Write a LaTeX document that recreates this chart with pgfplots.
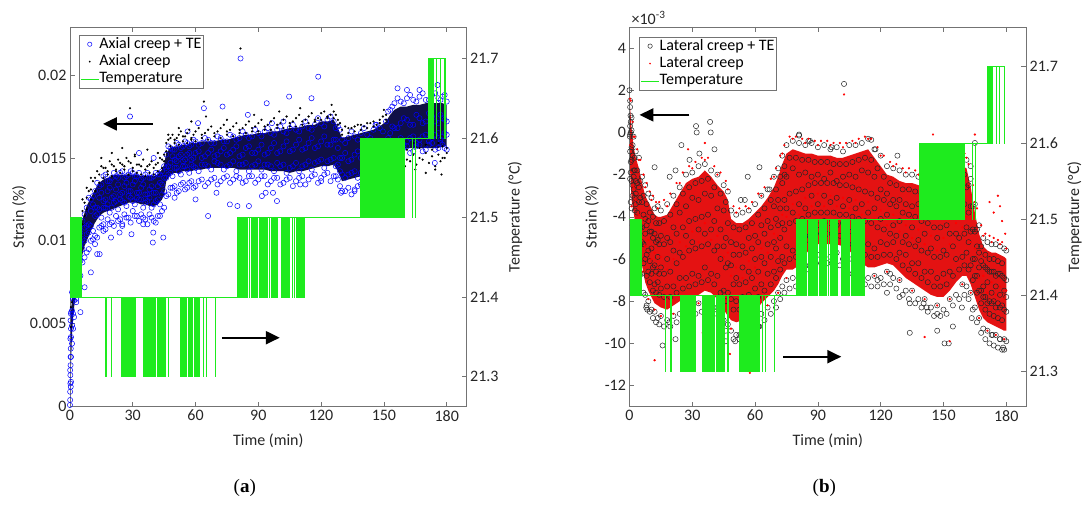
\documentclass[border=0pt]{standalone}
\usepackage{fontspec}
\setmainfont{Carlito}
\newfontfamily\capfont{Liberation Serif}
\usepackage{pgfplots}
\pgfplotsset{compat=1.18}
\usepackage{pgfplotstable}
\usepgfplotslibrary{fillbetween}
\usetikzlibrary{arrows.meta}

\definecolor{tgreen}{RGB}{30,235,30}
\definecolor{corea}{RGB}{16,16,70}
\definecolor{coreb}{RGB}{228,18,18}
\definecolor{axgray}{RGB}{115,115,115}
\newcommand\tickfont{\fontsize{16}{18}\selectfont}
\newcommand\legfont{\fontsize{16}{17}\selectfont}

% panel (a): strain in units of 1e-3 %
\pgfplotstableread{
t lo hi c1 c2 c3 c4 d1 d2
0.5 2.5 5.5 1.5 3.0 4.2 5.6 6.0 4.8
1 4.4 6.8 3.8 4.9 5.8 6.9 7.2 6.3
1.5 5.3 7.5 4.7 5.6 6.5 7.4 7.9 6.9
2 6.0 8.2 5.4 6.4 7.0 8.2 8.6 7.6
3 7.0 9.2 6.5 7.3 8.3 9.0 9.7 8.9
4 7.8 10.0 7.1 8.2 8.7 9.9 10.4 9.5
5 8.6 10.7 7.9 8.8 9.8 10.5 11.2 10.4
6 9.2 11.3 8.7 9.5 10.1 11.2 11.8 11.0
7 9.7 11.7 9.0 10.0 10.8 11.6 12.3 11.5
8 10.0 12.1 9.3 10.4 10.9 12.0 12.6 11.9
10 10.6 12.6 10.0 10.9 11.8 12.5 13.1 12.5
12 11.1 13.1 10.3 11.5 12.0 13.0 13.8 13.0
14 11.5 13.5 10.8 11.9 12.6 13.3 14.0 13.5
16 11.7 13.7 11.0 12.0 12.4 13.9 14.4 13.8
18 11.8 13.8 11.3 12.2 13.0 13.6 14.2 14.0
20 11.9 13.9 11.1 12.0 12.6 13.8 14.6 13.9
22 12.0 14.0 11.5 12.4 13.1 13.9 14.3 14.2
24 12.1 14.0 11.3 12.5 12.8 14.1 14.7 14.1
26 12.2 14.0 11.6 12.3 13.3 13.8 14.5 14.3
28 12.3 14.0 11.4 12.7 13.0 14.0 14.8 14.0
30 12.3 14.0 11.8 12.4 13.4 14.1 14.4 14.2
32 12.3 14.0 11.5 12.6 12.9 13.9 14.6 14.1
34 12.2 13.9 11.6 12.5 13.2 13.7 14.5 14.0
36 12.2 13.9 11.3 12.3 12.8 14.0 14.3 13.9
38 12.1 13.9 11.6 12.6 13.1 13.8 14.6 14.1
40 12.1 13.9 11.2 12.2 12.9 13.9 14.4 14.0
42 12.2 14.0 11.5 12.5 13.3 14.0 14.7 14.2
44 12.5 14.3 11.8 12.8 13.4 14.2 14.9 14.4
45 12.8 14.6 12.0 13.0 13.8 14.5 15.2 14.8
46 13.6 15.3 12.7 13.8 14.4 15.2 15.9 15.4
48 14.0 15.6 13.2 14.1 14.7 15.6 16.2 15.7
50 14.1 15.7 13.3 14.4 14.9 15.5 16.1 15.9
52 14.1 15.7 13.0 14.2 15.1 15.8 16.4 15.8
54 14.2 15.8 13.5 14.5 14.8 15.7 16.3 16.0
56 14.2 15.8 13.2 14.3 15.2 15.9 16.5 15.9
58 14.2 15.9 13.6 14.6 14.9 15.8 16.2 16.1
60 14.3 15.9 13.3 14.4 15.3 16.0 16.6 16.0
63 14.3 16.0 13.7 14.6 15.0 15.9 16.4 16.2
66 14.4 16.0 13.5 14.5 15.3 16.1 16.7 16.1
69 14.4 16.0 13.8 14.8 15.1 15.9 16.5 16.3
72 14.4 16.1 13.6 14.6 15.4 16.2 16.8 16.2
75 14.4 16.1 13.9 14.5 15.2 16.0 16.6 16.4
78 14.4 16.2 13.7 14.8 15.5 16.3 16.9 16.3
81 14.3 16.3 13.8 14.6 15.1 16.2 16.7 16.5
84 14.3 16.4 13.6 14.7 15.6 16.4 17.0 16.5
87 14.3 16.4 13.9 14.5 15.3 16.3 16.8 16.6
90 14.3 16.5 13.7 14.8 15.5 16.5 17.1 16.6
93 14.3 16.5 13.9 14.6 15.2 16.6 16.9 16.7
96 14.2 16.6 13.6 14.5 15.6 16.5 17.2 16.7
99 14.2 16.6 13.8 14.7 15.3 16.7 17.0 16.8
102 14.2 16.7 13.5 14.6 15.7 16.6 17.3 16.8
105 14.1 16.8 13.8 14.4 15.4 16.8 17.1 16.9
108 14.2 16.8 13.6 14.7 15.8 16.7 17.4 16.9
111 14.2 16.9 13.9 14.5 15.5 16.9 17.2 17.0
114 14.3 17.0 13.7 14.8 15.9 16.8 17.5 17.1
117 14.4 17.0 14.0 14.7 15.6 17.0 17.3 17.2
120 14.5 17.2 13.8 14.9 16.0 17.1 17.7 17.3
123 14.5 17.2 14.1 14.8 15.8 17.3 17.5 17.4
126 14.6 17.3 13.9 15.0 16.1 17.2 17.8 17.4
128 14.2 16.8 13.7 14.6 15.6 16.9 17.3 17.0
130 13.6 16.2 13.0 14.0 15.0 16.1 16.7 16.4
133 13.7 16.3 13.2 14.0 14.8 16.2 16.8 16.5
136 13.8 16.4 13.1 14.2 15.2 16.3 16.9 16.6
139 13.9 16.5 13.4 14.1 15.0 16.5 17.0 16.7
142 14.1 16.6 13.5 14.4 15.5 16.4 17.1 16.8
145 14.2 16.7 13.7 14.5 15.3 16.7 17.2 16.9
148 14.4 16.9 13.8 14.7 15.7 16.8 17.3 17.1
151 14.8 17.2 14.2 15.1 16.0 17.2 17.6 17.3
153 15.2 17.6 14.9 15.6 16.5 17.9 14.8 15.4
155 15.5 17.9 15.3 16.0 16.8 18.3 15.0 15.6
158 15.6 18.1 15.5 16.2 17.1 18.4 15.1 15.8
161 15.6 18.1 15.7 16.0 17.3 18.6 14.9 15.5
164 15.6 18.2 15.4 16.3 17.0 18.5 15.2 15.9
167 15.6 18.2 15.8 16.1 17.4 18.7 15.0 15.6
170 15.6 18.3 15.5 16.4 17.2 18.5 15.3 15.8
173 15.6 18.3 15.9 16.2 17.5 18.8 15.1 15.5
176 15.6 18.3 15.6 16.5 17.1 18.6 15.2 15.9
178 15.7 18.3 15.8 16.3 17.4 18.7 15.0 15.7
180 15.7 18.2 15.5 16.4 17.2 18.4 15.3 15.6
}\tabA

\pgfplotstableread{
t e1 e2 e3 e4 f1
9 9.5 10.5 11.0 12.6 13.0
11 10.1 10.6 12.2 12.7 13.6
13 10.2 11.6 12.0 13.5 14.2
15 10.9 11.4 12.9 13.4 14.5
17 10.7 12.0 12.5 14.0 14.4
19 11.0 11.7 13.2 13.6 14.8
21 10.9 12.3 12.7 14.1 14.5
23 11.2 11.9 13.4 13.8 14.9
25 11.0 12.4 12.9 14.2 14.6
27 11.4 12.1 13.5 13.9 15.0
29 11.1 12.6 13.0 14.2 14.7
31 11.5 12.2 13.6 13.9 15.1
33 11.2 12.5 12.9 14.1 14.6
35 11.4 12.0 13.4 13.8 14.9
37 11.0 12.4 12.8 14.1 14.5
39 11.4 12.0 13.3 13.8 14.8
41 11.1 12.4 12.9 14.1 14.6
43 11.5 12.2 13.5 14.0 15.0
47 12.8 14.0 14.5 15.7 16.1
49 13.2 13.9 15.1 15.5 16.4
51 12.9 14.4 14.8 15.9 16.2
53 13.4 14.0 15.2 15.6 16.6
55 13.1 14.5 14.9 16.0 16.3
57 13.5 14.1 15.3 15.7 16.7
59 13.2 14.5 15.0 16.1 16.4
61.5 13.6 14.2 15.4 15.8 16.8
64.5 13.3 14.6 15.1 16.2 16.5
67.5 13.7 14.3 15.5 15.9 16.9
70.5 13.4 14.7 15.2 16.3 16.6
73.5 13.8 14.3 15.6 16.0 17.0
76.5 13.5 14.6 15.3 16.4 16.7
79.5 13.9 14.2 15.7 16.1 17.1
82.5 13.5 14.6 15.2 16.6 16.8
85.5 13.9 14.2 15.7 16.2 17.2
88.5 13.5 14.6 15.3 16.7 16.9
91.5 13.9 14.3 15.8 16.3 17.3
94.5 13.4 14.6 15.3 16.8 17.0
97.5 13.8 14.2 15.9 16.4 17.4
100.5 13.4 14.5 15.4 16.9 17.1
103.5 13.7 14.1 16.0 16.5 17.5
106.5 13.3 14.5 15.5 17.0 17.2
109.5 13.8 14.2 16.1 16.6 17.6
112.5 13.4 14.6 15.6 17.2 17.3
115.5 13.9 14.3 16.2 16.7 17.7
118.5 13.5 14.8 15.7 17.4 17.4
121.5 14.0 14.4 16.3 16.9 17.8
124.5 13.6 14.9 15.8 17.5 17.6
127 13.9 14.5 16.1 16.8 17.6
129 13.3 14.2 15.0 16.7 17.1
131.5 13.0 13.8 15.3 15.9 16.9
134.5 12.8 14.1 14.9 16.6 16.8
137.5 13.3 13.8 15.4 16.1 17.0
140.5 12.9 14.3 15.0 16.8 16.9
143.5 13.5 14.0 15.6 16.2 17.1
146.5 13.2 14.6 15.3 17.0 17.0
149.5 13.8 14.4 16.0 16.6 17.5
152 14.5 15.3 16.2 17.8 14.4
154 15.1 15.6 16.9 18.1 14.6
156.5 15.2 16.0 16.8 18.6 14.7
159.5 15.6 15.8 17.4 18.3 14.5
162.5 15.3 16.2 17.0 18.8 14.8
165.5 15.7 15.9 17.6 18.4 14.6
168.5 15.4 16.3 17.1 18.9 14.9
171.5 15.8 16.0 17.7 18.5 14.7
174.5 15.5 16.4 17.2 18.9 14.5
177 15.9 16.1 17.6 18.5 14.8
179 15.6 16.5 17.3 18.8 15.0
}\tabAA

% panel (b): strain in units of 1e-3 %
\pgfplotstableread{
t lo hi c1 c2 c3 c4 c5 d1 d2
0.3 -1.8 1.2 -2.2 -0.9 -0.1 0.3 1.5 -0.6 1.6
1 -3.2 0.2 -3.6 -2.3 -1.3 -0.7 0.7 -1.9 -3.5
2 -3.8 -0.7 -4.4 -2.7 -2.1 -1.8 -0.2 -2.6 -0.2
3 -4.5 -1.2 -5.0 -3.4 -2.9 -2.3 -0.9 -3.2 -4.8
4.5 -5.4 -1.7 -5.8 -4.5 -3.3 -2.6 -1.2 -3.9 -1.3
6 -6.3 -2.4 -6.7 -5.2 -4.5 -3.3 -2.1 -4.1 -6.6
7.5 -7.1 -3.0 -7.7 -6.0 -4.8 -4.1 -2.5 -5.4 -2.6
9 -7.5 -3.3 -8.0 -6.6 -5.6 -4.2 -2.9 -5.1 -7.9
10.5 -7.8 -3.6 -8.4 -6.7 -5.5 -4.7 -3.1 -6.0 -3.2
12 -8.1 -3.9 -8.5 -7.2 -6.3 -4.8 -3.6 -5.7 -8.4
13.5 -8.2 -4.0 -8.8 -7.1 -5.9 -5.1 -3.5 -6.4 -3.6
15 -8.3 -4.0 -8.7 -7.4 -6.4 -4.9 -3.7 -5.9 -8.7
18 -8.4 -3.9 -8.9 -7.3 -6.0 -5.0 -3.4 -6.5 -3.5
21 -8.2 -3.4 -8.7 -7.3 -5.6 -4.5 -3.0 -6.0 -8.6
24 -8.0 -2.9 -8.6 -6.9 -5.7 -3.8 -2.6 -5.2 -2.4
27 -7.8 -2.4 -8.2 -6.9 -4.9 -3.5 -2.0 -5.4 -8.2
30 -7.8 -2.2 -8.4 -6.7 -5.2 -3.1 -1.9 -4.7 -1.7
33 -7.7 -2.1 -8.1 -6.8 -4.6 -3.2 -1.6 -5.2 -8.1
36 -7.5 -1.8 -8.0 -6.4 -4.8 -2.9 -1.5 -4.3 -1.3
39 -7.6 -2.1 -8.1 -6.7 -4.6 -3.0 -1.8 -5.1 -8.0
42 -7.9 -2.5 -8.3 -6.8 -5.4 -3.6 -2.0 -4.9 -2.0
45 -8.4 -2.8 -8.9 -7.5 -5.4 -3.7 -2.5 -5.9 -8.8
47 -8.7 -3.2 -9.1 -7.6 -6.2 -4.3 -2.8 -5.7 -2.7
48.5 -8.9 -4.1 -9.4 -7.9 -6.3 -5.2 -3.7 -6.8 -9.3
51 -9.0 -4.3 -9.6 -8.0 -6.9 -5.3 -3.9 -6.4 -3.8
54 -8.9 -4.3 -9.3 -7.8 -6.4 -5.4 -3.8 -6.9 -9.3
57 -8.7 -4.1 -9.2 -7.7 -6.6 -5.0 -3.7 -6.1 -3.6
60 -8.5 -3.8 -9.0 -7.4 -6.0 -4.9 -3.4 -6.4 -8.9
63 -8.1 -3.5 -8.6 -7.2 -5.9 -4.4 -3.0 -5.5 -3.0
66 -7.8 -3.1 -8.3 -6.7 -5.3 -4.2 -2.7 -5.7 -8.2
69 -7.5 -2.6 -8.0 -6.6 -5.2 -3.5 -2.1 -4.8 -2.1
71 -7.2 -2.1 -7.6 -6.1 -4.4 -3.2 -1.7 -4.9 -7.6
73 -6.8 -1.5 -7.3 -5.9 -4.3 -2.4 -1.1 -3.9 -1.0
75 -6.5 -1.0 -7.0 -5.4 -3.6 -2.1 -0.6 -4.0 -6.9
78 -6.5 -0.8 -6.9 -5.6 -3.8 -1.7 -0.4 -3.4 -0.3
81 -6.3 -0.9 -6.8 -5.2 -3.4 -2.0 -0.5 -3.9 -6.7
84 -5.8 -1.0 -6.3 -4.9 -3.6 -1.9 -0.6 -3.1 -0.5
87 -5.4 -1.0 -5.9 -4.3 -3.0 -2.1 -0.5 -3.5 -5.8
90 -5.3 -1.1 -5.8 -4.4 -3.4 -2.0 -0.7 -2.9 -0.6
93 -5.3 -1.1 -5.7 -4.2 -3.0 -2.2 -0.6 -3.5 -5.7
96 -5.3 -1.1 -5.9 -4.3 -3.3 -1.9 -0.8 -3.0 -0.6
99 -5.3 -1.2 -5.7 -4.4 -3.1 -2.3 -0.7 -3.5 -5.7
102 -5.4 -1.2 -6.0 -4.3 -3.5 -2.1 -0.9 -3.1 -0.7
105 -5.6 -1.1 -6.0 -4.7 -3.2 -2.0 -0.6 -3.6 -6.0
108 -5.9 -1.0 -6.4 -4.8 -3.6 -2.1 -0.6 -3.2 -0.5
111 -6.2 -0.9 -6.6 -5.3 -3.4 -1.8 -0.5 -3.9 -6.6
114 -6.4 -0.8 -6.9 -5.3 -3.8 -1.9 -0.3 -3.3 -0.3
117 -6.4 -1.2 -6.8 -5.5 -3.6 -2.1 -0.8 -4.1 -6.8
120 -6.3 -1.6 -6.9 -5.2 -4.1 -2.7 -1.1 -3.7 -1.1
123 -6.2 -2.0 -6.6 -5.3 -3.9 -2.9 -1.6 -4.4 -6.6
126 -6.3 -2.1 -6.9 -5.2 -4.4 -3.2 -1.7 -3.9 -1.6
129 -6.6 -2.3 -7.0 -5.7 -4.2 -3.2 -1.8 -4.7 -7.0
132 -6.9 -2.4 -7.5 -5.8 -4.9 -3.4 -2.0 -4.4 -1.9
135 -7.1 -2.4 -7.5 -6.2 -4.5 -3.5 -2.0 -5.0 -7.5
138 -7.3 -2.5 -7.9 -6.2 -5.1 -3.4 -2.1 -4.6 -2.0
141 -7.5 -2.6 -7.9 -6.6 -4.8 -3.7 -2.2 -5.3 -7.9
144 -7.7 -2.7 -8.3 -6.6 -5.5 -3.6 -2.3 -4.9 -2.2
147 -7.8 -2.8 -8.2 -6.9 -5.0 -3.9 -2.4 -5.6 -8.2
150 -7.8 -2.8 -8.4 -6.7 -5.6 -3.7 -2.4 -5.0 -2.3
153 -7.5 -2.5 -7.9 -6.6 -4.8 -3.6 -2.1 -5.3 -7.9
156 -7.1 -2.0 -7.7 -6.0 -4.8 -2.9 -1.6 -4.3 -1.5
159 -6.8 -1.6 -7.2 -5.9 -4.0 -2.7 -1.2 -4.5 -7.2
161 -6.8 -1.7 -7.3 -5.7 -4.5 -2.6 -1.3 -4.0 -1.2
163 -7.2 -2.6 -7.6 -6.3 -4.7 -3.5 -2.2 -5.2 -7.6
165 -7.8 -3.8 -8.3 -6.8 -6.0 -4.7 -3.4 -5.5 -3.3
167 -8.4 -4.8 -8.8 -7.5 -6.4 -5.7 -4.4 -6.9 -8.8
169 -8.8 -5.4 -9.3 -7.8 -7.3 -6.3 -5.0 -6.8 -4.9
171 -9.0 -5.6 -9.4 -8.1 -7.1 -6.5 -5.2 -7.6 -9.4
173 -9.1 -5.7 -9.6 -8.1 -7.6 -6.6 -5.3 -7.1 -5.2
175 -9.2 -5.7 -9.6 -8.3 -7.3 -6.8 -5.3 -7.7 -9.6
177 -9.3 -5.8 -9.8 -8.3 -7.7 -6.7 -5.4 -7.3 -5.3
179 -9.4 -5.9 -9.8 -8.4 -7.5 -6.9 -5.5 -7.9 -9.8
180 -9.4 -6.0 -9.9 -8.5 -7.8 -7.0 -5.6 -7.5 -5.5
}\tabB

\pgfplotstableread{
t e1 e2 e3 e4 e5 f1
0.6 -3.3 -1.9 -1.4 0.0 0.5 1.5
1.5 -4.4 -3.0 -2.5 -1.1 -0.6 0.5
2.5 -5.0 -3.7 -3.1 -1.8 -1.2 -0.2
3.7 -5.8 -4.4 -3.8 -2.4 -1.8 -0.8
5.2 -6.7 -5.3 -4.5 -3.1 -2.3 -1.3
6.7 -7.6 -6.2 -5.3 -3.9 -3.0 -2.0
8.2 -8.2 -6.8 -5.8 -4.4 -3.4 -2.4
9.7 -8.5 -7.1 -6.1 -4.7 -3.8 -2.8
11.2 -8.8 -7.5 -6.4 -5.0 -4.0 -3.0
12.7 -9.0 -7.6 -6.6 -5.2 -4.3 -3.3
14.2 -9.1 -7.7 -6.7 -5.3 -4.3 -3.3
16.5 -9.2 -7.8 -6.7 -5.3 -4.2 -3.2
19.5 -9.2 -7.8 -6.6 -5.2 -3.9 -2.9
22.5 -9.0 -7.6 -6.2 -4.8 -3.4 -2.4
25.5 -8.8 -7.4 -5.9 -4.5 -2.9 -1.9
28.5 -8.7 -7.3 -5.6 -4.2 -2.6 -1.6
31.5 -8.6 -7.2 -5.5 -4.1 -2.4 -1.4
34.5 -8.5 -7.1 -5.4 -4.0 -2.3 -1.2
37.5 -8.4 -7.0 -5.3 -3.9 -2.2 -1.2
40.5 -8.6 -7.2 -5.6 -4.2 -2.6 -1.6
43.5 -9.0 -7.6 -6.0 -4.6 -2.9 -1.9
46 -9.4 -8.0 -6.4 -5.0 -3.3 -2.3
49.7 -9.8 -8.4 -7.2 -5.8 -4.5 -3.5
52.5 -9.8 -8.4 -7.2 -5.8 -4.6 -3.6
55.5 -9.7 -8.3 -7.1 -5.7 -4.5 -3.5
58.5 -9.5 -8.1 -6.9 -5.5 -4.3 -3.3
61.5 -9.2 -7.8 -6.6 -5.2 -3.9 -2.9
64.5 -8.9 -7.5 -6.2 -4.8 -3.6 -2.6
67.5 -8.6 -7.2 -5.9 -4.5 -3.2 -2.2
70 -8.3 -6.9 -5.5 -4.1 -2.7 -1.7
72 -7.9 -6.5 -5.0 -3.6 -2.1 -1.1
74 -7.6 -6.2 -4.6 -3.2 -1.6 -0.6
76.5 -7.4 -6.0 -4.3 -2.9 -1.2 -0.2
79.5 -7.3 -5.9 -4.2 -2.8 -1.2 -0.2
82.5 -7.0 -5.6 -4.1 -2.7 -1.3 -0.3
85.5 -6.5 -5.1 -3.9 -2.5 -1.3 -0.3
88.5 -6.3 -4.9 -3.8 -2.4 -1.4 -0.4
91.5 -6.2 -4.8 -3.8 -2.4 -1.4 -0.4
94.5 -6.2 -4.8 -3.8 -2.4 -1.4 -0.4
97.5 -6.2 -4.8 -3.8 -2.4 -1.5 -0.5
100.5 -6.3 -4.9 -3.9 -2.5 -1.5 -0.5
103.5 -6.4 -5.0 -3.9 -2.5 -1.5 -0.5
106.5 -6.7 -5.3 -4.0 -2.6 -1.4 -0.4
109.5 -7.0 -5.6 -4.1 -2.7 -1.3 -0.3
112.5 -7.2 -5.8 -4.2 -2.8 -1.2 -0.2
115.5 -7.3 -5.9 -4.3 -2.9 -1.3 -0.3
118.5 -7.3 -5.9 -4.5 -3.1 -1.7 -0.7
121.5 -7.2 -5.8 -4.6 -3.2 -2.1 -1.1
124.5 -7.2 -5.8 -4.8 -3.4 -2.4 -1.4
127.5 -7.4 -6.0 -4.9 -3.5 -2.5 -1.5
130.5 -7.7 -6.3 -5.2 -3.8 -2.7 -1.7
133.5 -7.9 -6.5 -5.3 -3.9 -2.7 -1.7
136.5 -8.1 -6.7 -5.4 -4.0 -2.8 -1.8
139.5 -8.3 -6.9 -5.6 -4.2 -2.9 -1.9
142.5 -8.5 -7.1 -5.7 -4.3 -3.0 -2.0
145.5 -8.7 -7.3 -5.9 -4.5 -3.1 -2.1
148.5 -8.7 -7.3 -5.9 -4.5 -3.1 -2.1
151.5 -8.6 -7.2 -5.8 -4.4 -3.0 -2.0
154.5 -8.2 -6.8 -5.4 -4.0 -2.6 -1.6
157.5 -7.9 -6.5 -5.0 -3.6 -2.1 -1.1
160 -7.7 -6.3 -4.8 -3.4 -2.0 -1.0
162 -7.9 -6.5 -5.2 -3.8 -2.5 -1.5
164 -8.4 -7.0 -6.0 -4.6 -3.5 -2.5
166 -9.0 -7.6 -6.8 -5.4 -4.6 -3.6
168 -9.5 -8.1 -7.5 -6.1 -5.4 -4.4
170 -9.8 -8.4 -7.8 -6.4 -5.8 -4.8
172 -10.0 -8.6 -8.0 -6.6 -6.0 -4.9
174 -10.1 -8.7 -8.0 -6.6 -6.0 -5.0
176 -10.2 -8.8 -8.1 -6.7 -6.1 -5.1
178 -10.3 -8.9 -8.2 -6.8 -6.2 -5.2
}\tabBB

% temperature (same record in both panels)
\pgfplotstableread{
t T
0 21.5
0.3 21.4
0.6 21.5
0.9 21.4
1.2 21.5
1.5 21.4
1.8 21.5
2.1 21.4
2.4 21.5
2.7 21.4
3.0 21.5
3.3 21.4
3.6 21.5
3.9 21.4
4.2 21.5
4.5 21.4
4.8 21.5
5.1 21.4
5.4 21.5
5.6 21.4
17.0 21.3
17.2 21.4
19.6 21.3
19.8 21.4
24.4 21.3
24.7 21.4
25.0 21.3
25.3 21.4
25.6 21.3
25.9 21.4
26.2 21.3
26.5 21.4
26.8 21.3
27.1 21.4
27.4 21.3
27.7 21.4
28.0 21.3
28.3 21.4
28.6 21.3
28.9 21.4
29.2 21.3
29.5 21.4
29.8 21.3
30.1 21.4
30.4 21.3
30.7 21.4
31.0 21.3
31.4 21.4
34.9 21.3
35.2 21.4
35.5 21.3
35.8 21.4
36.1 21.3
36.4 21.4
36.7 21.3
37.0 21.4
37.3 21.3
37.6 21.4
37.9 21.3
38.2 21.4
38.5 21.3
38.8 21.4
39.1 21.3
39.4 21.4
39.7 21.3
40.0 21.4
40.3 21.3
40.6 21.4
41.5 21.3
41.8 21.4
42.2 21.3
42.5 21.4
43.0 21.3
43.3 21.4
43.7 21.3
44.0 21.4
44.5 21.3
44.8 21.4
45.1 21.3
45.4 21.4
46.8 21.3
47.0 21.4
52.5 21.3
52.8 21.4
53.1 21.3
53.4 21.4
53.7 21.3
54.0 21.4
54.3 21.3
54.6 21.4
54.9 21.3
55.2 21.4
55.5 21.3
55.8 21.4
56.5 21.3
56.8 21.4
57.1 21.3
57.4 21.4
57.7 21.3
58.0 21.4
58.3 21.3
58.6 21.4
59.2 21.3
59.5 21.4
60.0 21.3
60.3 21.4
60.6 21.3
60.9 21.4
61.2 21.3
61.5 21.4
61.8 21.3
62.0 21.4
63.5 21.3
63.6 21.4
65.0 21.3
65.1 21.4
69.2 21.3
69.4 21.4
79.7 21.5
80.0 21.4
80.3 21.5
80.6 21.4
80.9 21.5
81.2 21.4
81.5 21.5
81.8 21.4
82.1 21.5
82.4 21.4
82.7 21.5
83.0 21.4
83.3 21.5
83.6 21.4
83.9 21.5
84.2 21.4
84.5 21.5
85.5 21.4
85.7 21.5
86.4 21.4
86.6 21.5
87.0 21.4
87.3 21.5
87.6 21.4
87.9 21.5
88.2 21.4
88.5 21.5
88.8 21.4
89.1 21.5
89.4 21.4
89.6 21.5
90.5 21.4
90.7 21.5
91.3 21.4
91.5 21.5
92.0 21.4
92.3 21.5
92.6 21.4
92.9 21.5
93.2 21.4
93.5 21.5
93.8 21.4
94.1 21.5
95.0 21.4
95.2 21.5
96.0 21.4
96.3 21.5
96.6 21.4
96.9 21.5
97.2 21.4
97.5 21.5
97.8 21.4
98.1 21.5
98.4 21.4
98.7 21.5
99.0 21.4
99.2 21.5
101.0 21.4
101.3 21.5
101.6 21.4
101.9 21.5
102.2 21.4
102.5 21.5
102.8 21.4
103.1 21.5
103.4 21.4
103.7 21.5
104.0 21.4
104.3 21.5
104.6 21.4
104.9 21.5
106.0 21.4
106.2 21.5
107.0 21.4
107.2 21.5
108.0 21.4
108.3 21.5
108.6 21.4
108.9 21.5
109.2 21.4
109.5 21.5
109.8 21.4
110.1 21.5
110.4 21.4
110.7 21.5
111.0 21.4
111.3 21.5
111.6 21.4
112.0 21.5
138.5 21.6
138.8 21.5
139.1 21.6
139.4 21.5
139.7 21.6
140.0 21.5
140.3 21.6
140.6 21.5
140.9 21.6
141.2 21.5
141.5 21.6
141.8 21.5
142.1 21.6
142.4 21.5
142.7 21.6
143.0 21.5
143.3 21.6
143.6 21.5
143.9 21.6
144.2 21.5
144.5 21.6
144.8 21.5
145.1 21.6
145.6 21.5
145.8 21.6
146.2 21.5
146.5 21.6
146.8 21.5
147.1 21.6
147.4 21.5
147.7 21.6
148.0 21.5
148.3 21.6
148.6 21.5
148.9 21.6
149.2 21.5
149.5 21.6
149.8 21.5
150.1 21.6
150.4 21.5
150.7 21.6
151.0 21.5
151.3 21.6
151.6 21.5
151.9 21.6
152.2 21.5
152.5 21.6
153.0 21.5
153.3 21.6
153.6 21.5
153.9 21.6
154.2 21.5
154.5 21.6
154.8 21.5
155.1 21.6
155.4 21.5
155.7 21.6
156.0 21.5
156.3 21.6
156.6 21.5
156.9 21.6
157.2 21.5
157.5 21.6
157.8 21.5
158.1 21.6
158.4 21.5
158.7 21.6
159.0 21.5
159.3 21.6
159.6 21.5
159.9 21.6
163.6 21.5
163.7 21.6
165.0 21.5
165.1 21.6
171.0 21.7
171.3 21.6
171.6 21.7
171.9 21.6
172.2 21.7
172.5 21.6
172.8 21.7
173.2 21.6
173.4 21.7
175.0 21.6
175.1 21.7
176.7 21.6
176.8 21.7
179.0 21.6
179.1 21.7
179.5 21.7
}\tabT

\pgfplotsset{
  base/.style={scale only axis, xmin=0, xmax=189.5, width=397pt, height=380pt,
    axis line style={draw=axgray, line width=0.6pt},
    tick style={draw=axgray, line width=0.6pt},
    major tick length=5pt, tick align=inside,
    tick label style={font=\tickfont, text=black!85},
    /pgf/number format/assume math mode=true},
  circ/.style={only marks, mark=o, mark size=2.6pt, mark options={line width=0.5pt}, forget plot},
  dotm/.style={only marks, mark=*, mark size=0.9pt, forget plot},
  leftaxis/.style={base, xtick={0,30,...,180}, xtick pos=both, ytick pos=left,
    xlabel={Time (min)}, ylabel={Strain (\%)},
    every axis x label/.style={at={(axis description cs:0.5,-0.089)}, anchor=center, font=\tickfont, text=black!85},
    legend cell align=left},
  tempaxis/.style={base, axis x line=none, axis y line*=right,
    ytick={21.3,21.4,21.5,21.6,21.7},
    yticklabel style={/pgf/number format/fixed, /pgf/number format/precision=1, /pgf/number format/fixed zerofill},
    ylabel={Temperature (°C)},
    every axis y label/.style={at={(axis description cs:1.122,0.5)}, anchor=center, rotate=90, font=\tickfont, text=black!85}},
  legst/.style={legend style={at={(axis description cs:#1)}, anchor=north west, draw=axgray, fill=white,
    font=\legfont, inner xsep=1.5pt, inner ysep=1pt, row sep=1.2pt,
    nodes={inner sep=0.6pt, text height=11.5pt, text depth=3.5pt}, cells={anchor=west}}},
}

\begin{document}
\begin{tikzpicture}
\path (0,0) rectangle (1085pt,505pt);

%================ (a) =================
\begin{axis}[leftaxis, at={(70pt,98pt)}, anchor=south west,
  ymin=0, ymax=22.9, ytick={0,5,10,15,20}, yticklabels={0,0.005,0.01,0.015,0.02},
  every axis y label/.style={at={(axis description cs:-0.128,0.5)}, anchor=center, rotate=90, font=\tickfont, text=black!85},
  legst={0.023,0.979}]
\addplot[name path=loa, draw=none, forget plot] table[x=t,y=lo]{\tabA};
\addplot[name path=hia, draw=none, forget plot] table[x=t,y=hi]{\tabA};
\addplot[corea, forget plot] fill between[of=loa and hia];
\addplot[circ, blue] table[x=t,y=c1]{\tabA};
\addplot[circ, blue] table[x=t,y=c2]{\tabA};
\addplot[circ, blue] table[x=t,y=c3]{\tabA};
\addplot[circ, blue] table[x=t,y=c4]{\tabA};
\addplot[circ, blue] table[x=t,y=e1]{\tabAA};
\addplot[circ, blue] table[x=t,y=e2]{\tabAA};
\addplot[circ, blue] table[x=t,y=e3]{\tabAA};
\addplot[circ, blue] table[x=t,y=e4]{\tabAA};
\addplot[circ, blue] coordinates {(0,0.1)(0.1,0.4)(0.1,0.9)(0.2,1.4)(0.2,1.9)(0.3,2.5)(0.3,3.0)(0.4,3.5)(0.2,4.1)(0.5,4.7)(0.3,5.2)(0.6,5.7)(0.1,2.2)(0.4,1.2)(3,6.3)(4,7.0)(5,5.7)(7,7.2)(10,8.1)(13,9.2)(14.2,9.2)(19.6,10.2)(23.7,10.5)(28.7,17.5)(29.4,10.4)(39.8,10.5)(39.6,9.9)(44.6,10.2)(56.2,16.6)(61.2,17.1)(64,18.0)(66,11.5)(72.9,18.1)(76.4,12.2)(80,12.1)(81.5,21.0)(85,17.6)(85.5,12.1)(91.7,12.7)(93.5,12.9)(94,18.3)(96.5,17.1)(97,12.9)(98.9,12.4)(102,17.2)(104.7,18.7)(115.4,18.6)(118.6,19.9)(129.5,12.9)(136,13.0)(146,17.0)(156.5,19.2)(161,19.1)(167,19.1)(175.6,19.4)(174.3,14.7)(25,10.9)(35,11.0)(50,12.6)(60,12.5)(70,12.9)(110,13.4)(120,13.6)(140,13.1)(16,10.6)(33,15.3)(40,15.0)(12,9.8)};
\addplot[dotm, black] table[x=t,y=d1]{\tabA};
\addplot[dotm, black] table[x=t,y=d2]{\tabA};
\addplot[dotm, black] table[x=t,y=f1]{\tabAA};
\addplot[dotm, black] coordinates {(81.5,21.6)(28.7,18.0)(64,18.4)(15,15.0)(20,15.3)(25,15.6)(31,15.2)(37,15.5)(42,15.3)(47,16.4)(52,16.8)(58,17.2)(65,17.5)(75,17.3)(88,17.6)(100,17.8)(110,18.0)(125,18.2)(150,17.9)(165,14.3)(174.5,14.3)(177.5,14.0)(160,14.5)(155,14.6)(170,14.1)(6,12.5)(8,13.2)(10,13.8)};
\addlegendimage{legend image code/.code={\draw[draw=blue, line width=0.5pt] (9pt,0pt) circle (2.2pt);}}
\addlegendentry{Axial creep + TE}
\addlegendimage{legend image code/.code={\fill[fill=black, draw=none] (9pt,0pt) circle (0.9pt);}}
\addlegendentry{Axial creep}
\addlegendimage{legend image code/.code={\fill[fill=tgreen, draw=none] (0pt,-0.4pt) rectangle (18pt,0.4pt);}}
\addlegendentry{Temperature}
\end{axis}
\begin{axis}[tempaxis, at={(70pt,98pt)}, anchor=south west, ymin=21.262, ymax=21.74]
\addplot[const plot, tgreen, line width=0.55pt] table[x=t,y=T]{\tabT};
\end{axis}

%================ (b) =================
\begin{axis}[leftaxis, at={(630pt,98pt)}, anchor=south west,
  ymin=-13, ymax=5, ytick={-12,-10,...,4},
  every axis y label/.style={at={(axis description cs:-0.095,0.5)}, anchor=center, rotate=90, font=\tickfont, text=black!85},
  legst={0.025,0.974}]
\addplot[name path=lob, draw=none, forget plot] table[x=t,y=lo]{\tabB};
\addplot[name path=hib, draw=none, forget plot] table[x=t,y=hi]{\tabB};
\addplot[coreb, forget plot] fill between[of=lob and hib];
\addplot[circ, black!85] table[x=t,y=c1]{\tabB};
\addplot[circ, black!85] table[x=t,y=c2]{\tabB};
\addplot[circ, black!85] table[x=t,y=c3]{\tabB};
\addplot[circ, black!85] table[x=t,y=c4]{\tabB};
\addplot[circ, black!85] table[x=t,y=c5]{\tabB};
\addplot[circ, black!85] table[x=t,y=e1]{\tabBB};
\addplot[circ, black!85] table[x=t,y=e2]{\tabBB};
\addplot[circ, black!85] table[x=t,y=e3]{\tabBB};
\addplot[circ, black!85] table[x=t,y=e4]{\tabBB};
\addplot[circ, black!85] table[x=t,y=e5]{\tabBB};
\addplot[circ, black!85] coordinates {(0,2.0)(0.3,1.2)(0.5,0.8)(0.2,-0.2)(1,0.1)(31.8,0.3)(32.1,0.0)(38.5,0.5)(38.8,0.0)(24.8,-0.6)(12,-1.65)(19.2,-2.1)(22,-1.8)(28.7,-1.3)(33.4,-1.0)(40.6,-0.8)(62.1,-1.65)(56.5,-2.1)(66.9,-2.7)(74.1,-2.0)(81,-0.1)(86.2,-0.4)(53.2,-3.2)(55.1,-3.2)(8.5,-8.4)(15.8,-10.1)(22,-9.8)(8,-8.3)(46,-9.9)(50.5,-9.9)(56.5,-10.1)(43.5,-9.5)(52.5,-9.6)(133.9,-9.5)(133.9,-8.1)(140.5,-8.1)(147,-9.4)(150.5,-10.0)(152.5,-10.0)(147,-8.6)(154.5,-9.2)(163.5,-8.8)(158.8,-8.3)(173.5,-9.6)(178.5,-10.2)(118.5,-7.0)(123,-7.6)(124.5,-6.7)(102.5,2.3)(81,-0.15)(85.5,-0.4)(96.5,-0.7)(115.5,-0.35)(117.5,-0.8)(128,-1.1)(165,-0.5)(163,-1.6)(179,-10.3)(177,-9.8)(19,-9.0)(62,-9.2)(129,-7.8)(142,-8.3)};
\addplot[dotm, red] table[x=t,y=d1]{\tabB};
\addplot[dotm, red] table[x=t,y=d2]{\tabB};
\addplot[dotm, red] table[x=t,y=f1]{\tabBB};
\addplot[dotm, red] coordinates {(102.5,1.8)(145,-0.1)(165,-0.1)(12,-10.8)(48,-10.5)(57.5,-11.4)(35,-9.5)(20,-9.8)(28,-0.8)(36,-0.5)(88,-7.5)(141,-9.7)(153,-9.9)(176,-3.0)(177,-3.5)(178,-4.2)(179.5,-4.8)(174,-3.8)(172,-3.3)};
\addlegendimage{legend image code/.code={\draw[draw=black!85, line width=0.5pt] (9pt,0pt) circle (2.2pt);}}
\addlegendentry{Lateral creep + TE}
\addlegendimage{legend image code/.code={\fill[fill=red, draw=none] (9pt,0pt) circle (0.9pt);}}
\addlegendentry{Lateral creep}
\addlegendimage{legend image code/.code={\fill[fill=tgreen, draw=none] (0pt,-0.4pt) rectangle (18pt,0.4pt);}}
\addlegendentry{Temperature}
\end{axis}
\begin{axis}[tempaxis, at={(630pt,98pt)}, anchor=south west, ymin=21.254, ymax=21.752]
\addplot[const plot, tgreen, line width=0.55pt] table[x=t,y=T]{\tabT};
\end{axis}

% annotations
\node[anchor=base west, font=\tickfont, text=black!85, inner sep=0pt] at (632pt,480pt) {×10\textsuperscript{-3}};
\draw[line width=2.2pt, -{Triangle[length=14pt,width=13pt]}] (153pt,381pt) -- (103pt,381pt);
\draw[line width=2.2pt, -{Triangle[length=14pt,width=13pt]}] (222pt,167pt) -- (280pt,167pt);
\draw[line width=2.2pt, -{Triangle[length=14pt,width=13pt]}] (690pt,390pt) -- (640pt,390pt);
\draw[line width=2.2pt, -{Triangle[length=14pt,width=13pt]}] (784pt,148pt) -- (842pt,148pt);
\node[font=\capfont\fontsize{19}{22}\selectfont] at (245pt,17pt) {(\textbf{a})};
\node[font=\capfont\fontsize{19}{22}\selectfont] at (825pt,17pt) {(\textbf{b})};
\end{tikzpicture}
\end{document}
